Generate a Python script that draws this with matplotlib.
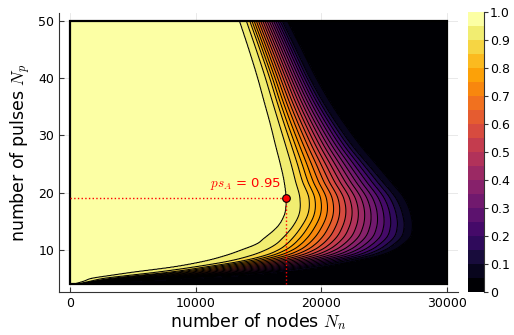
import numpy as np
import matplotlib
matplotlib.use("Agg")
import matplotlib.pyplot as plt
from matplotlib.patches import Rectangle

plt.rcParams["mathtext.fontset"] = "cm"

# rows of the map (number of pulses) and, for each row, the number of nodes
# where ps_A crosses 0.95 / 0.90 / 0.85 / 0.10 / 0.05
pulses = [4, 4.5, 5, 5.5, 6, 7, 8, 9, 10, 11, 12, 14, 16, 19, 22, 25, 28, 32, 36, 40, 45, 50]
n_095 = [300, 1080, 1700, 3170, 4750, 8240, 10700, 12400, 13700, 14850, 15450, 16500,
         17050, 17200, 17050, 16750, 16400, 15950, 15450, 14950, 14250, 13500]
n_090 = [600, 1600, 2700, 4600, 6600, 9900, 12600, 14400, 15600, 16400, 16900, 17700,
         18200, 18300, 17950, 17600, 17200, 16650, 16100, 15560, 14820, 14040]
n_085 = [750, 1900, 3300, 5400, 7600, 10800, 13600, 15500, 16600, 17250, 17700, 18400,
         18900, 19020, 18500, 18100, 17660, 17050, 16460, 15900, 15120, 14310]
n_010 = [1300, 4000, 8500, 12500, 15500, 19200, 21800, 23900, 25100, 25800, 26300, 26600,
         26500, 25950, 24850, 23700, 22550, 21250, 20100, 19100, 18000, 16900]
n_005 = [1600, 4800, 9800, 13500, 16500, 20000, 22500, 24600, 25800, 26500, 27000, 27250,
         27150, 26600, 25500, 24350, 23200, 21850, 20650, 19600, 18450, 17300]

nodes_min, nodes_max = 0, 30000
levels = np.linspace(0, 1, 21)

# highlighted operating point
pt_nodes = 17200
pt_pulses = 19
pt_value = 0.95


def smooth_rows(rows, xs, ys):
    # cubic hermite through the read rows (finite difference slopes)
    xs = np.asarray(xs, float)
    ys = np.asarray(ys, float)
    m = np.gradient(ys, xs)
    idx = np.clip(np.searchsorted(xs, rows) - 1, 0, len(xs) - 2)
    h = xs[idx + 1] - xs[idx]
    t = (rows - xs[idx]) / h
    h00 = 2 * t**3 - 3 * t**2 + 1
    h10 = t**3 - 2 * t**2 + t
    h01 = -2 * t**3 + 3 * t**2
    h11 = t**3 - t**2
    return h00 * ys[idx] + h10 * h * m[idx] + h01 * ys[idx + 1] + h11 * h * m[idx + 1]


def build_field():
    nodes = np.linspace(nodes_min, nodes_max, 901)
    rows = np.linspace(pulses[0], pulses[-1], 461)
    knots = np.array([smooth_rows(rows, pulses, k) for k in (n_095, n_090, n_085, n_010, n_005)])
    knots = np.maximum.accumulate(np.clip(knots, 1, nodes_max - 1), axis=0)
    Z = np.zeros((len(rows), len(nodes)))
    for i in range(len(rows)):
        xk = [nodes_min] + list(knots[:, i] + np.arange(5) * 1e-3) + [nodes_max]
        yk = [1.0, 0.95, 0.90, 0.85, 0.10, 0.05, 0.0]
        Z[i] = np.interp(nodes, xk, yk)
    return nodes, rows, Z


nodes, rows, Z = build_field()

fig = plt.figure(figsize=(5.14, 3.35), dpi=100)
ax = fig.add_axes([0.1148, 0.1284, 0.7763, 0.832])
cax = fig.add_axes([0.9111, 0.1293, 0.0311, 0.834])

cmap = plt.get_cmap("inferno")
band_colors = [cmap(i / 19) for i in range(20)]

cf = ax.contourf(nodes, rows, Z, levels=levels, colors=band_colors, zorder=1)
ax.contour(nodes, rows, Z, levels=levels[1:-1], colors="black", linewidths=0.75, zorder=2)
ax.add_patch(Rectangle((nodes_min, pulses[0]), nodes_max - nodes_min, pulses[-1] - pulses[0],
                       fill=False, edgecolor="black", linewidth=1.6, zorder=3))

# marker + guide lines
ax.plot([nodes_min, pt_nodes], [pt_pulses, pt_pulses], color="red", linestyle=":", linewidth=1.0, zorder=4)
ax.plot([pt_nodes, pt_nodes], [pulses[0], pt_pulses], color="red", linestyle=":", linewidth=1.0, zorder=4)
ax.plot(pt_nodes, pt_pulses, "o", color="red", markeredgecolor="black", markersize=5.5,
        markeredgewidth=0.8, zorder=5)
ax.text(16760, 20.9, r"$ps_A$ = " + f"{pt_value}", color="red", fontsize=9.5,
        ha="right", va="baseline", zorder=5)

ax.set_xlim(-900, 30900)
ax.set_ylim(2.62, 51.38)
ax.set_xticks([0, 10000, 20000, 30000])
ax.set_yticks([10, 20, 30, 40, 50])
ax.tick_params(direction="in", length=3.5, labelsize=9, color="#333333")
ax.grid(True, color="black", alpha=0.1, linewidth=0.6, zorder=0)
ax.set_axisbelow(True)
for s in ["top", "right"]:
    ax.spines[s].set_visible(False)
for s in ["left", "bottom"]:
    ax.spines[s].set_color("#333333")
ax.set_xlabel(r"number of nodes $N_n$", fontsize=12.5, labelpad=1)
ax.set_ylabel(r"number of pulses $N_p$", fontsize=12.5, labelpad=4)

cb = fig.colorbar(cf, cax=cax, ticks=np.linspace(0, 1, 11))
cb.ax.set_yticklabels(["0"] + [f"{v:.1f}" for v in np.linspace(0.1, 1, 10)])
cb.outline.set_visible(False)
cb.ax.spines["right"].set_visible(True)
cb.ax.spines["right"].set_color("#333333")
cb.ax.tick_params(direction="out", length=3, labelsize=9, color="#333333", pad=1)

plt.savefig("out.png", dpi=100)
